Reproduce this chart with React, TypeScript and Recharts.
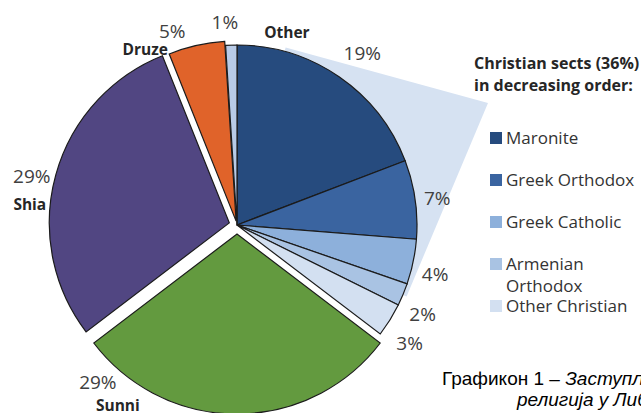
import React from 'react';
import { PieChart, Pie, Cell, Legend, Customized } from 'recharts';

const sects = [
  'Maronite',
  'Greek Orthodox',
  'Greek Catholic',
  'Armenian Orthodox',
  'Other Christian',
  'Sunni',
  'Shia',
  'Druze',
  'Other',
];
const shares = [19, 7, 4, 2, 3, 29, 29, 5, 1];
const pctLabels = ['19%', '7%', '4%', '2%', '3%', '29%', '29%', '5%', '1%'];
const christianSects = ['Maronite', 'Greek Orthodox', 'Greek Catholic', 'Armenian Orthodox', 'Other Christian'];

const COLORS: Record<string, string> = {
  Maronite: '#264b7e',
  'Greek Orthodox': '#3a64a0',
  'Greek Catholic': '#8db0db',
  'Armenian Orthodox': '#a9c3e3',
  'Other Christian': '#d3e0f1',
  Sunni: '#639a3f',
  Shia: '#514682',
  Druze: '#e0632a',
  Other: '#b8cbe7',
};

// how far each slice is pulled out of the pie (px)
const EXPLODE: Record<string, number> = { Sunni: 9, Shia: 8, Druze: 4 };

// label placement: distance past the rim, clockwise angle shift, bold name offset
const LABEL_POS: Record<string, { gap: number; shift: number; name?: [number, number] }> = {
  Maronite: { gap: 33, shift: 1.5 },
  'Greek Orthodox': { gap: 22, shift: 0.5 },
  'Greek Catholic': { gap: 24, shift: 2 },
  'Armenian Orthodox': { gap: 26, shift: 3 },
  'Other Christian': { gap: 29, shift: 2.5 },
  Sunni: { gap: 30, shift: 41.5, name: [20, 23] },
  Shia: { gap: 31, shift: -2, name: [-2, 28] },
  Druze: { gap: 25, shift: -5.7, name: [-27, 18] },
  Other: { gap: 23, shift: -1.6, name: [62, 10] },
};

const data = sects.map((name, i) => ({ name, value: shares[i] }));

const CX = 237;
const CY = 225;
const R = 180;
const RAD = Math.PI / 180;

const total = shares.reduce((a, b) => a + b, 0);
const midAngles = shares.map((v, i) => {
  const before = shares.slice(0, i).reduce((a, b) => a + b, 0);
  return ((before + v / 2) / total) * 360; // clockwise from 12 o'clock
});

const explodeStyle = (i: number): React.CSSProperties => {
  const d = EXPLODE[sects[i]] || 0;
  const a = midAngles[i] * RAD;
  return { transform: `translate(${d * Math.sin(a)}px, ${-d * Math.cos(a)}px)` };
};

const Fan = () => {
  // light callout wedge from the Christian slices towards the legend
  const ax = CX + 251;
  const ay = CY - 122;
  const r = R + 4;
  const d = Math.hypot(ax - CX, ay - CY);
  const base = Math.atan2(ay - CY, ax - CX);
  const a = Math.acos(r / d);
  const t1 = [CX + r * Math.cos(base - a), CY + r * Math.sin(base - a)];
  const t2 = [CX + r * Math.cos(base + a), CY + r * Math.sin(base + a)];
  const pts = [t1, [ax, ay], t2, [CX, CY]].map((p) => p.join(',')).join(' ');
  return <polygon points={pts} fill="#d6e2f2" />;
};

const renderLabel = (props: any) => {
  const { cx, cy, midAngle, outerRadius, index } = props;
  const name = sects[index];
  const pos = LABEL_POS[name];
  const ang = (midAngle - pos.shift) * RAD;
  const r = outerRadius + pos.gap;
  const x = cx + r * Math.cos(ang);
  const y = cy - r * Math.sin(ang);
  return (
    <g key={`lbl-${index}`}>
      <text x={x} y={y} textAnchor="middle" dominantBaseline="central" fill="#404040" fontSize={19} fontFamily="Open Sans">
        {pctLabels[index]}
      </text>
      {pos.name && (
        <text
          x={x + pos.name[0]}
          y={y + pos.name[1]}
          textAnchor="middle"
          dominantBaseline="central"
          fill="#262626"
          fontSize={15.5}
          fontWeight={700}
          fontFamily="Open Sans"
        >
          {name}
        </text>
      )}
    </g>
  );
};

const itemGaps = [31, 20, 20, 20, -2];

const renderLegend = () => (
  <div style={{ fontFamily: 'Open Sans', color: '#262626' }}>
    <div style={{ fontWeight: 700, fontSize: 16, lineHeight: '22px', whiteSpace: 'nowrap' }}>
      Christian sects (36%)
      <br />
      in decreasing order:
    </div>
    {christianSects.map((name, i) => (
      <div key={name} style={{ display: 'flex', alignItems: 'flex-start', marginTop: itemGaps[i] }}>
        <span style={{ width: 12, height: 12, background: COLORS[name], marginLeft: 16, marginTop: 5, flexShrink: 0 }} />
        <span style={{ fontSize: 17, lineHeight: '22px', marginLeft: 4, width: 134, color: '#333' }}>{name}</span>
      </div>
    ))}
  </div>
);

export default function App() {
  return (
    <div style={{ position: 'absolute', left: 0, top: 0, width: 641, height: 413, overflow: 'hidden', background: '#fff' }}>
      <PieChart width={641} height={413} margin={{ top: 0, right: 0, bottom: 0, left: 0 }}>
        <Customized component={Fan} />
        <Pie
          data={data}
          dataKey="value"
          nameKey="name"
          cx={CX}
          cy={CY}
          outerRadius={R}
          startAngle={90}
          endAngle={-270}
          stroke="#1b1b1b"
          strokeWidth={1.2}
          label={renderLabel}
          labelLine={false}
          isAnimationActive={false}
        >
          {data.map((d, i) => (
            <Cell key={d.name} fill={COLORS[d.name]} style={explodeStyle(i)} />
          ))}
        </Pie>
        <Legend
          content={renderLegend}
          wrapperStyle={{ position: 'absolute', left: 474, top: 52, width: 167 }}
        />
      </PieChart>
      <div
        style={{
          position: 'absolute',
          left: 442,
          top: 368,
          fontFamily: 'Liberation Sans',
          fontSize: 19,
          lineHeight: '21px',
          whiteSpace: 'nowrap',
          color: '#000',
        }}
      >
        Графикон 1 – <i>Заступљеност</i>
        <br />
        <span style={{ marginLeft: 75 }}>
          <i>религија у Либану</i>
        </span>
      </div>
    </div>
  );
}
